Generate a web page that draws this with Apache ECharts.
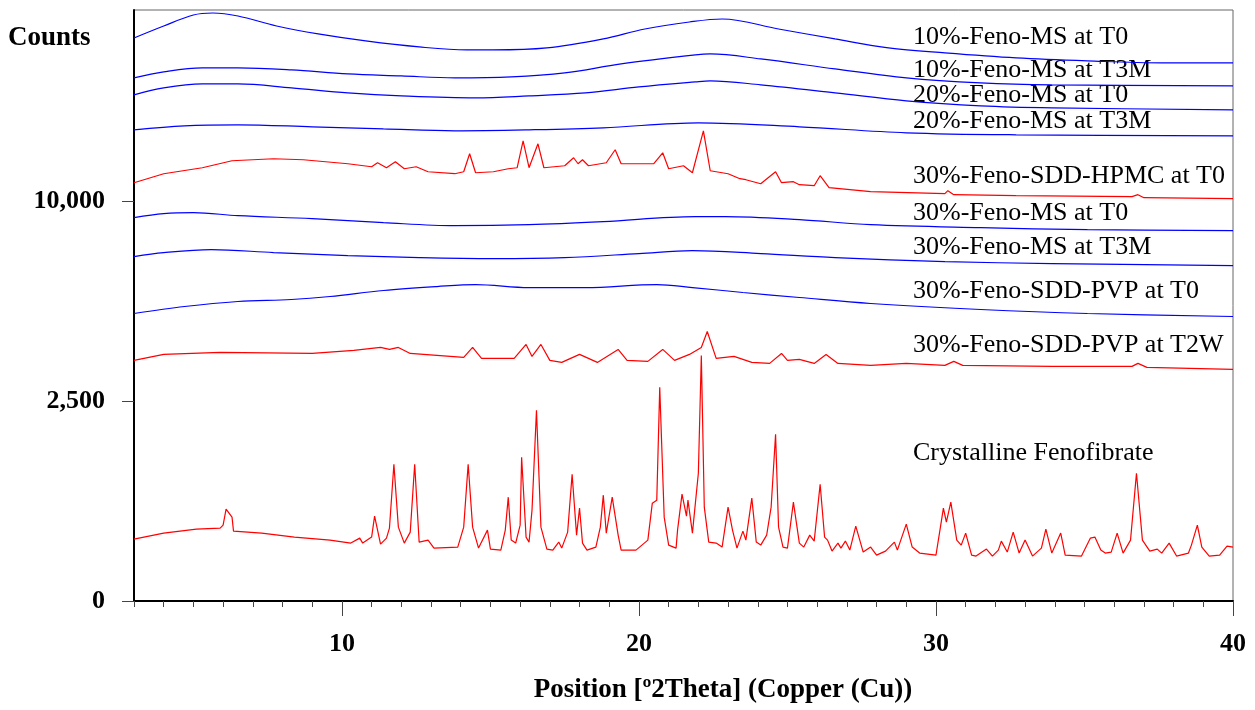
<!DOCTYPE html>
<html>
<head>
<meta charset="utf-8">
<script src="https://cdn.jsdelivr.net/npm/echarts@6/dist/echarts.min.js"></script>
<style>
  html, body { margin: 0; padding: 0; background: #fff; }
  #chart { width: 1255px; height: 710px; }
</style>
</head>
<body>
<div id="chart"></div>
<script>
// y values are read on the square-root Counts axis (value = sqrt(counts))
// so 50 -> 2,500 counts, 100 -> 10,000 counts
var xTicks = [10, 20, 30, 40];
var yTicks = [0, 50, 100];

var ms10T0 = [[3,141],[4,144],[5,146.75],[5.65,147.25],[6.5,146.5],[7.8,144],[9.2,142],[10.8,140.25],[12.6,138.75],[14.2,138],[15.1,138],[16.9,138.5],[18.8,140.75],[20.2,143.25],[21.7,145],[22.8,145.75],[24.7,143.25],[26.6,140.75],[28.4,138.5],[30.3,137.25],[32.7,136],[35.1,135.25],[37.6,134.75],[40,134.75]];
var ms10T3M = [[3,131],[4,132.5],[5.3,133.5],[6.5,133.5],[8.3,133],[10.2,132],[12,131.5],[13.8,131],[15.7,131.25],[17.5,132.25],[19.4,134.5],[21.9,136.75],[22.4,137],[24.1,135.75],[26.6,133.25],[29,131],[31.5,129.75],[33.9,129.25],[40,129]];
var ms20T0 = [[3,126.75],[4,128.5],[5.3,129.5],[6.5,129.5],[8.3,128.5],[10.2,127.25],[12,126.5],[14.5,126],[16.3,126.5],[18.2,127.25],[20,128.75],[21.9,130],[22.4,130.25],[24.1,129.25],[26.6,127.25],[29,125.25],[31.5,124],[33.9,123.5],[40,123]];
var ms20T3M = [[3,118],[4.7,119],[6.5,119.25],[9,118.75],[11.4,118.25],[13.8,117.75],[16.3,118],[18.8,118.5],[22,119.75],[25.4,118.75],[29,117.25],[32.7,116.75],[40,116.5]];
var hpmcT0 = [[3,104.75],[4,107],[5.3,108.5],[6.3,110.25],[7.7,110.75],[8.7,110.5],[10.2,109.5],[11,108.75],[11.2,109.75],[11.5,108.5],[11.8,110],[12.1,108.25],[12.5,108.75],[12.9,107.5],[13.8,107],[14.1,107.5],[14.3,112],[14.5,107.25],[15.1,107.5],[15.6,108.25],[15.9,108.5],[16.1,115.25],[16.3,108.5],[16.6,114.5],[16.8,108.5],[17.5,109],[17.8,111],[17.95,109.5],[18.1,110.5],[18.3,109],[18.9,109.75],[19.2,113],[19.4,109.5],[20.5,109.5],[20.8,112.25],[21,108.25],[21.5,109],[21.8,107.25],[22.17,117.75],[22.4,107.75],[23,107],[23.4,105.75],[23.6,105.5],[24.1,104.5],[24.6,107.5],[24.8,104.75],[25.2,105],[25.4,104.25],[25.9,104],[26.1,106.5],[26.4,103.5],[27.8,102.5],[30.3,102],[30.4,102.75],[30.6,101.75],[32.7,101.5],[36.6,101.25],[36.8,101.75],[37,101],[40,100.75]];
var ms30T0 = [[3,96],[4,97],[5,97.25],[6.5,96.5],[9,95.75],[11.4,94.75],[13.8,94],[16.3,94.25],[18.8,95],[21.9,96.25],[22.9,96.25],[25.4,95.5],[27.8,94.25],[31.5,93.5],[35.1,93],[40,92.75]];
var ms30T3M = [[3,86.25],[4,87.25],[5.6,88],[7.7,87.25],[10.2,86.5],[12.6,86],[15.1,85.75],[17.5,86],[20,87],[21.8,87.75],[24.1,87],[26.6,86],[30.3,85],[33.9,84.5],[40,84]];
var pvpT0 = [[3,72],[4.7,73.75],[6.5,75],[8.3,75.5],[9.6,76.25],[11.4,77.75],[13.2,78.75],[14.5,79.25],[16.3,78.5],[18.2,78.5],[20.6,79.25],[21.8,78.5],[23.5,77.25],[25.4,76],[27.8,74.5],[31.5,73],[35.1,72],[40,71.25]];
var pvpT2W = [[3,60.25],[4,61.75],[5.9,62.25],[9,62],[10.4,62.75],[11.3,63.5],[11.6,63],[11.9,63.5],[12.3,62],[13.2,61.5],[14.1,61],[14.4,63.5],[14.7,60.75],[15.8,60.75],[16.2,64.25],[16.4,61.25],[16.7,64.25],[17,60.25],[17.4,59.75],[18,61.75],[18.6,59.75],[19.3,63],[19.6,60.25],[20.3,60],[20.8,63],[21.2,60.25],[21.7,61.75],[22.1,63.5],[22.3,67.5],[22.6,60.75],[23.2,61.25],[23.8,59.75],[24.4,59.5],[24.8,62],[25,60.25],[25.4,60.5],[25.9,59.5],[26.3,61.75],[26.7,59.5],[27.8,59],[29,59.5],[30.3,59],[30.6,60],[30.9,59],[33.9,58.75],[36.6,58.75],[36.8,59.5],[37.1,58.5],[40,58]];
var crystalline = [[3,15.5],[4,17],[5.1,18],[5.9,18.25],[6,19],[6.1,23],[6.2,22],[6.3,21],[6.35,17.5],[7.3,17],[8.4,16],[9.6,15.25],[10.3,14.5],[10.6,15.75],[10.7,14.5],[11,16],[11.1,21.25],[11.3,14.25],[11.5,15.75],[11.6,18.25],[11.75,34.25],[11.9,18.5],[12.1,14.5],[12.3,17.25],[12.45,34.25],[12.6,14.75],[12.9,15.25],[13.1,13.25],[13.9,13.5],[14.1,18.5],[14.25,34.25],[14.4,18.5],[14.6,13.25],[14.9,17.75],[15,13],[15.35,12.75],[15.5,17.75],[15.6,26],[15.7,15.25],[15.85,14.5],[16,19],[16.05,36],[16.2,16],[16.3,14.75],[16.4,22.75],[16.55,47.75],[16.7,18.5],[16.9,13],[17.1,12.75],[17.3,14.75],[17.4,13.25],[17.6,17.25],[17.75,31.75],[17.9,16.5],[18,23.25],[18.1,14.5],[18.25,12.75],[18.55,13.5],[18.7,18.5],[18.8,26.5],[18.9,17],[19.1,26],[19.3,16.5],[19.4,12.75],[19.9,12.75],[20.3,15.25],[20.45,24.5],[20.6,25.25],[20.7,53.5],[20.85,21],[21,14],[21.25,13.25],[21.3,17.75],[21.45,26.75],[21.6,21.25],[21.65,25.25],[21.8,17],[22,32],[22.1,61.5],[22.2,23.5],[22.35,14.75],[22.6,14.5],[22.8,13.5],[22.9,18.5],[23,23.5],[23.15,17.75],[23.3,13.25],[23.5,17.5],[23.6,15.25],[23.8,25.75],[23.95,14.75],[24.1,14],[24.3,16.5],[24.45,23.5],[24.6,41.75],[24.7,18.5],[24.85,13.5],[25,13.25],[25.2,24.75],[25.4,14.5],[25.55,13.5],[25.75,16.5],[25.9,15],[26.1,29.25],[26.25,16],[26.35,15.25],[26.5,12.5],[26.7,14.5],[26.8,13.25],[26.95,15],[27.1,12.75],[27.3,18.75],[27.55,12.25],[27.8,13.5],[28,11.5],[28.3,12.5],[28.6,14.75],[28.7,12.75],[29,19.25],[29.2,13.5],[29.45,12],[30,11.5],[30.15,18.5],[30.25,23.25],[30.35,19.75],[30.5,24.75],[30.7,15.25],[30.85,14],[31,17],[31.2,11.5],[31.35,11.25],[31.7,13],[31.9,11.25],[32.1,12.75],[32.2,15],[32.4,12.25],[32.6,17.25],[32.8,12],[33,15.25],[33.25,11.25],[33.55,13.25],[33.7,18],[33.9,12],[34.2,17],[34.35,11.5],[34.9,11.25],[35.2,15.75],[35.35,16],[35.55,12.75],[35.7,12],[35.9,12.25],[36.1,17],[36.3,12],[36.55,15.25],[36.75,32],[36.95,15.25],[37.2,12.5],[37.45,13],[37.6,12],[37.85,14.5],[38.1,11.25],[38.5,12],[38.6,14],[38.8,19],[38.95,13.5],[39.2,11.25],[39.55,11.5],[39.8,13.75],[40,13.5]];

var traces = [
  { name: '10%-Feno-MS at T0', data: ms10T0, color: '#0000ff' },
  { name: '10%-Feno-MS at T3M', data: ms10T3M, color: '#0000ff' },
  { name: '20%-Feno-MS at T0', data: ms20T0, color: '#0000ff' },
  { name: '20%-Feno-MS at T3M', data: ms20T3M, color: '#0000ff' },
  { name: '30%-Feno-SDD-HPMC at T0', data: hpmcT0, color: '#ff0000' },
  { name: '30%-Feno-MS at T0', data: ms30T0, color: '#0000ff' },
  { name: '30%-Feno-MS at T3M', data: ms30T3M, color: '#0000ff' },
  { name: '30%-Feno-SDD-PVP at T0', data: pvpT0, color: '#0000ff' },
  { name: '30%-Feno-SDD-PVP at T2W', data: pvpT2W, color: '#ff0000' },
  { name: 'Crystalline Fenofibrate', data: crystalline, color: '#ff0000' }
];
// vertical centre of each trace label, in px
var labelTops = [37, 70, 95, 121, 176, 213, 247, 291, 345, 453];

var serif = '"Liberation Serif", "Times New Roman", serif';
var chart = echarts.init(document.getElementById('chart'));

var series = traces.map(function (t) {
  return {
    name: t.name,
    type: 'line',
    data: t.data,
    showSymbol: false,
    smooth: t.color === '#0000ff' ? 0.35 : false,
    lineStyle: { color: t.color, width: 1.2 },
    animation: false
  };
});

var graphics = traces.map(function (t, i) {
  return {
    type: 'text', x: 913, y: labelTops[i],
    style: { text: t.name, font: '26px ' + serif, fill: '#000', verticalAlign: 'middle' }
  };
});
graphics.push({
  type: 'text', x: 8, y: 38,
  style: { text: 'Counts', font: 'bold 27px ' + serif, fill: '#000', verticalAlign: 'middle' }
});
graphics.push({
  type: 'text', x: 723, y: 690,
  style: { text: 'Position [º2Theta] (Copper (Cu))', font: 'bold 27px ' + serif, fill: '#000', align: 'center', verticalAlign: 'middle' }
});

chart.setOption({
  backgroundColor: '#fff',
  grid: { left: 134, right: 22, top: 10, bottom: 109, show: true, borderColor: '#666', borderWidth: 1 },
  xAxis: [{
    type: 'value', min: 3, max: 40, interval: 1,
    axisLine: { show: true, lineStyle: { color: '#000', width: 2 } },
    axisTick: { show: true, inside: false, length: 6, lineStyle: { color: '#444' } },
    axisLabel: {
      customValues: xTicks, margin: 30,
      fontFamily: serif, fontWeight: 'bold', fontSize: 26, color: '#000'
    },
    splitLine: { show: false }
  }, {
    type: 'value', min: 3, max: 40, position: 'bottom',
    axisLine: { show: false },
    axisTick: { show: true, customValues: xTicks, length: 15, lineStyle: { color: '#444' } },
    axisLabel: { show: false },
    splitLine: { show: false }
  }],
  yAxis: {
    type: 'value', min: 0, max: 148, interval: 50,
    axisLine: { show: true, lineStyle: { color: '#000', width: 2 } },
    axisTick: { show: true, customValues: yTicks, length: 12, lineStyle: { color: '#444' } },
    axisLabel: {
      customValues: yTicks,
      margin: 29, fontFamily: serif, fontWeight: 'bold', fontSize: 26, color: '#000',
      formatter: function (v) { return (v * v).toLocaleString('en-US'); }
    },
    splitLine: { show: false }
  },
  series: series,
  graphic: graphics
});
</script>
</body>
</html>
